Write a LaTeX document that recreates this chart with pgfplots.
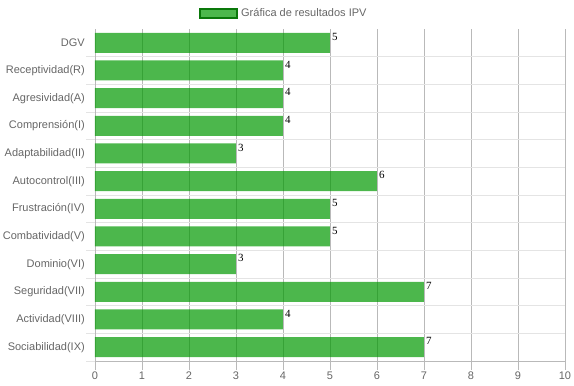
\documentclass[border=0pt]{standalone}
\usepackage{pgfplots}
\pgfplotsset{compat=1.18}
\usepackage{fontspec}
\setmainfont{Liberation Sans}
\newfontfamily\seriffont{Liberation Serif}
\definecolor{barbase}{RGB}{0,153,0}
\definecolor{barfill}{RGB}{76,184,76}
\definecolor{legborder}{RGB}{10,120,10}
\definecolor{ticktext}{RGB}{102,102,102}
\definecolor{vgrid}{RGB}{185,185,185}
\definecolor{hgrid}{RGB}{228,228,228}
\begin{document}
\begin{tikzpicture}
\begin{axis}[
  scale only axis,
  width=470pt, height=332pt,
  xbar, bar width=20pt,
  xmin=0, xmax=10, ymin=-0.5, ymax=11.5,
  axis lines=left,
  axis line style={-, draw=vgrid, line width=0.8pt},
  xtick={0,1,...,10},
  ytick={-0.5,0.5,...,10.5},
  yticklabels={Sociabilidad(IX),Actividad(VIII),Seguridad(VII),Dominio(VI),Combatividad(V),Frustración(IV),Autocontrol(III),Adaptabilidad(II),Comprensión(I),Agresividad(A),Receptividad(R),DGV},
  yticklabel style={yshift=13.833pt, inner sep=1pt},
  xticklabel style={inner sep=2pt},
  tick align=outside,
  major tick length=9pt,
  xtick style={draw=vgrid, line width=0.8pt},
  ytick style={draw=hgrid, line width=0.8pt},
  xmajorgrids=true, ymajorgrids=true,
  x grid style={draw=vgrid, line width=0.8pt},
  y grid style={draw=hgrid, line width=0.8pt},
  ticklabel style={font=\fontsize{11}{13}\selectfont, text=ticktext},
  /pgf/number format/assume math mode=true,
  nodes near coords,
  every node near coord/.append style={anchor=west, inner sep=0pt, xshift=2pt, yshift=6pt, text=black, font=\seriffont\fontsize{11}{12}\selectfont},
  legend style={at={(0.402,1.0467)}, anchor=center, draw=none, fill=none,
    font=\fontsize{11}{13}\selectfont, text=ticktext, inner sep=0pt},
  legend image code/.code={\draw[fill=barfill, fill opacity=1, draw opacity=1, draw=legborder, line width=1.6pt] (0pt,-4.5pt) rectangle (37pt,4.5pt); \path (39pt,0pt);},
]
\addplot[fill=barbase, fill opacity=0.7, draw=none, text opacity=1] coordinates {
  (7,0) (4,1) (7,2) (3,3) (5,4) (5,5) (6,6) (3,7) (4,8) (4,9) (4,10) (5,11)
};
\addlegendentry{Gráfica de resultados IPV}
\end{axis}
\path ([xshift=-95pt,yshift=-25pt]current axis.south west) rectangle ([xshift=9pt,yshift=29pt]current axis.north east);
\end{tikzpicture}
\end{document}
